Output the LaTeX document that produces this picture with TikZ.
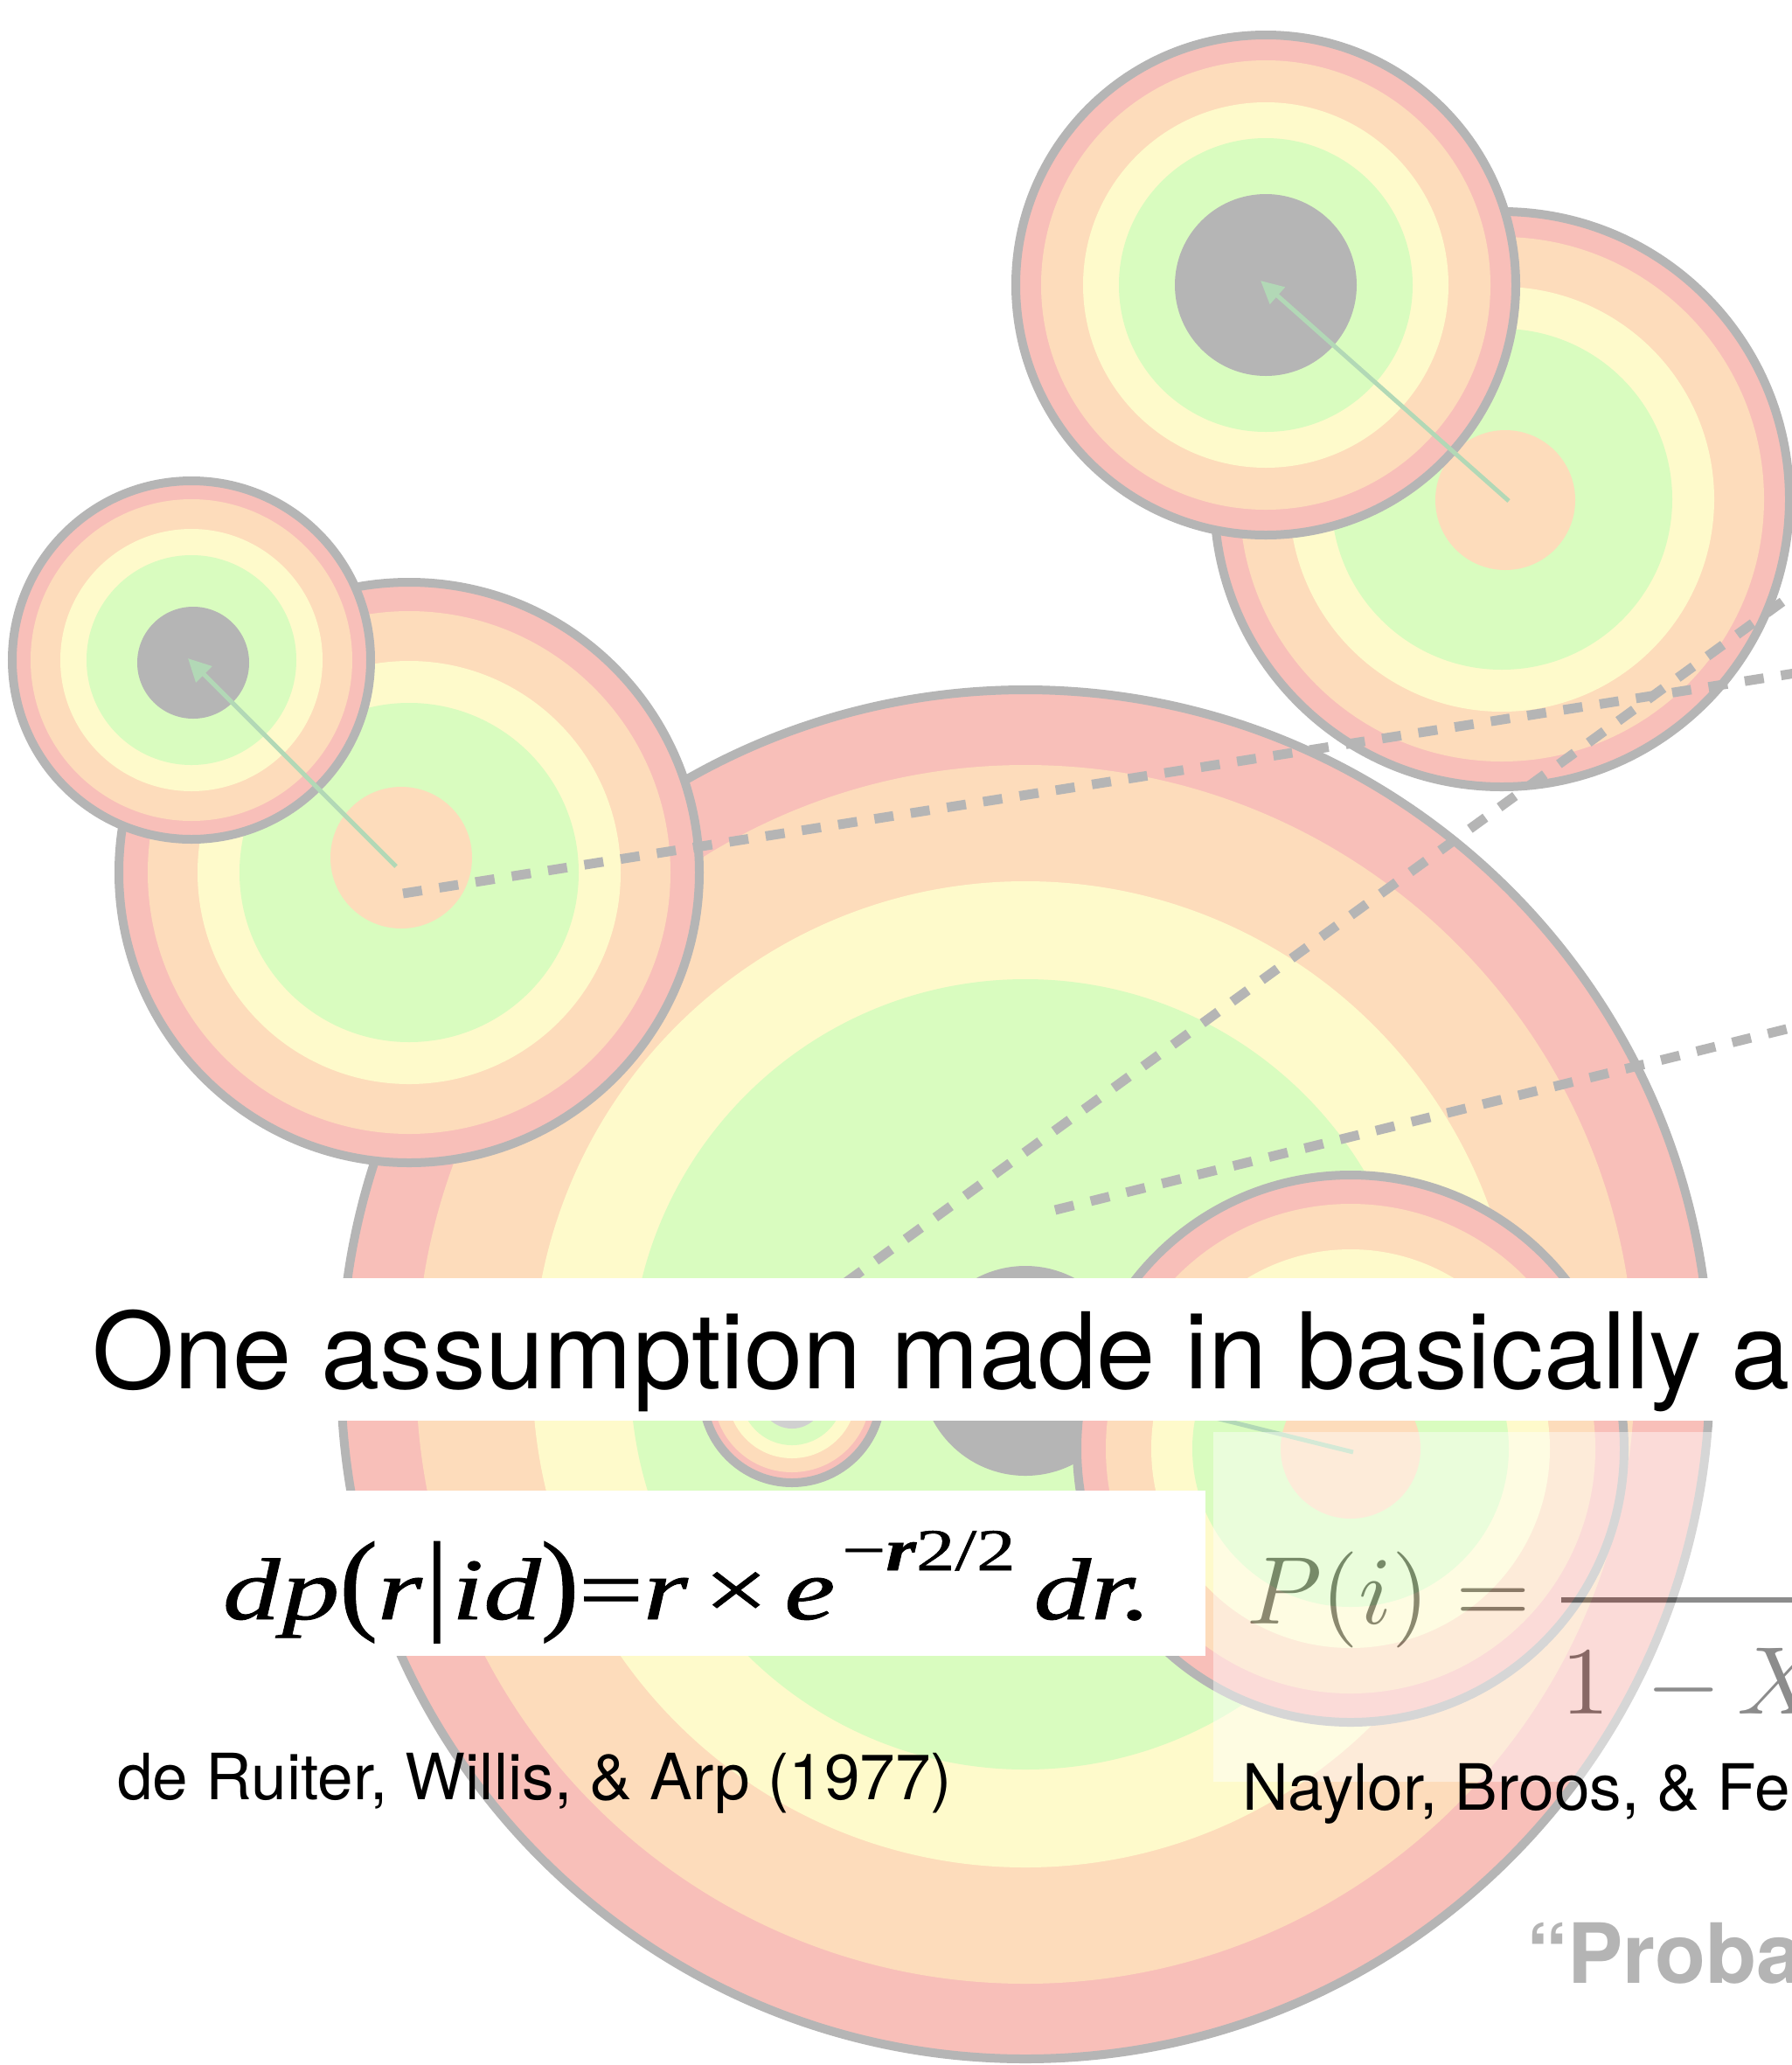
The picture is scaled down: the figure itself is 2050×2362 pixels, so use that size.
\documentclass[tikz,border=0pt]{standalone}
\usepackage{fontspec}
\usepackage{graphicx}
\usetikzlibrary{arrows.meta}
\newfontfamily\hv{TeX Gyre Heros}
\newfontfamily\tms[FakeBold=0.8]{Liberation Serif}
\definecolor{ringpink}{HTML}{F8BFB9}
\definecolor{ringpeach}{HTML}{FDDCBB}
\definecolor{ringyellow}{HTML}{FEFACB}
\definecolor{ringgreen}{HTML}{D9FCBF}
\definecolor{coregray}{HTML}{B5B5B5}
\definecolor{palecore}{HTML}{D0D0D0}
\definecolor{rimgray}{HTML}{B5B5B5}
\definecolor{arrowgreen}{HTML}{B2D8B6}
\definecolor{probagray}{HTML}{B4B4B4}
\newcommand\ringset[6]{%
  \coordinate (#1) at #2;
  \fill[ringpink] (#1) circle[radius=#3pt];
  \fill[ringpeach] (#1) circle[radius=#4pt];
  \fill[ringyellow] (#1) circle[radius=#5pt];
  \fill[ringgreen] (#1) circle[radius=#6pt];
  \draw[rim] (#1) circle[radius=#3pt];
}
\newcommand\eqpar[1]{{\upshape\scalebox{1}[1.28]{#1}}}
\tikzset{
  rim/.style={draw=rimgray, line width=10pt},
  offsetarrow/.style={draw=arrowgreen, fill=arrowgreen, line width=5pt, -{Triangle[length=26pt,width=25pt]}},
  matchline/.style={draw=rimgray, line width=11pt, dash pattern=on 22pt off 20pt},
  txt/.style={anchor=base west, inner sep=0pt, outer sep=0pt},
}
\begin{document}
\begin{tikzpicture}[x=1pt,y=-1pt]
\useasboundingbox (0,0) rectangle (2050,2362);
\clip (0,0) rectangle (2050,2362);
\fill[white] (0,0) rectangle (2050,2362);

% big circle C with gray core
\ringset{C}{(1173,1572)}{783}{697}{564}{452}
\coordinate (Cg) at (1173,1568);
\fill[coregray] (Cg) circle[radius=120pt];

% small circle G with pale core
\ringset{G}{(906,1594)}{102}{90}{74}{59}
\fill[palecore] (906,1597) circle[radius=37pt];

% circle F (peach centre)
\ringset{F}{(1545,1657)}{313}{280}{228}{181}
\coordinate (Fp) at (1548,1661);
\fill[ringpeach] (1545,1657) circle[radius=80pt];

% circle B (peach centre) and A (gray core)
\ringset{B}{(468,998)}{332}{299}{242}{194}
\fill[ringpeach] (459,981) circle[radius=81pt];
\coordinate (Bp) at (453,991);
\ringset{A}{(219,755)}{205}{184}{150}{120}
\fill[coregray] (221,758) circle[radius=64pt];
\coordinate (Ag) at (215,753);

% circle E (peach centre) and D (gray core)
\ringset{E}{(1718,571)}{329}{300}{243}{195}
\fill[ringpeach] (1722,572) circle[radius=80pt];
\coordinate (Ep) at (1726,573);
\ringset{D}{(1448,326)}{286}{257}{209}{168}
\fill[coregray] (1448,326) circle[radius=104pt];
\coordinate (Dg) at (1442,321);

% offset arrows
\draw[offsetarrow] (Bp) -- (Ag);
\draw[offsetarrow] (Ep) -- (Dg);
\draw[offsetarrow] (Fp) -- (Cg);

% dashed match lines
\coordinate (L1a) at (461,1022);
\coordinate (L1b) at (2060,769);
\coordinate (L2a) at (900,1516);
\coordinate (L2b) at (2060,673);
\coordinate (L3a) at (1207,1384);
\coordinate (L3b) at (2060,1173);
\draw[matchline] (L1a) -- (L1b);
\draw[matchline] (L2a) -- (L2b);
\draw[matchline] (L3a) -- (L3b);

% title band
\fill[white] (0,1462) rectangle (2050,1625);
\node[txt, font=\hv\fontsize{121}{140}\selectfont] (title) at (105,1588)
  {One assumption made in basically a};

% first formula
\fill[white] (240,1705) rectangle (1379,1894);
\node[txt, font=\tms\itshape\fontsize{100}{120}\selectfont] (eqone) at (255,1852)
  {\resizebox{1062pt}{\height}{d\kern2pt p\eqpar{(}r\kern3pt\eqpar{|}\kern3pt id\eqpar{)}{\upshape=}r\hspace{14pt}{\upshape ×}\hspace{14pt}e\hspace{6pt}\raisebox{56pt}{\fontsize{68}{68}\selectfont{\upshape −}{\bfseries r}{\upshape 2/2}}\hspace{16pt}dr.}};

% second formula, faded
\begin{scope}[transparency group, opacity=0.45]
\fill[white] (1388,1638) rectangle (2060,2038);
\node[txt] (eqtwo) at (1426,1857) {\scalebox{11}{$P(i) =$}};
\draw[line width=6pt] (1786,1830) -- (2060,1830);
\node[txt] (eqden) at (1786,1960) {\scalebox{11}{$1 \mkern3mu - \mkern-1mu X$}};
\end{scope}

% citations
\node[txt, font=\hv\fontsize{73}{86}\selectfont] (citeone) at (134,2058)
  {de Ruiter, Willis, \& Arp (1977)};
\node[txt, font=\hv\fontsize{73}{86}\selectfont] (citetwo) at (1421,2070)
  {Naylor, Broos, \& Fe};
\node[txt, text=probagray, font=\hv\bfseries\fontsize{95}{110}\selectfont] (proba) at (1746,2268)
  {“Proba};
\end{tikzpicture}
\end{document}
